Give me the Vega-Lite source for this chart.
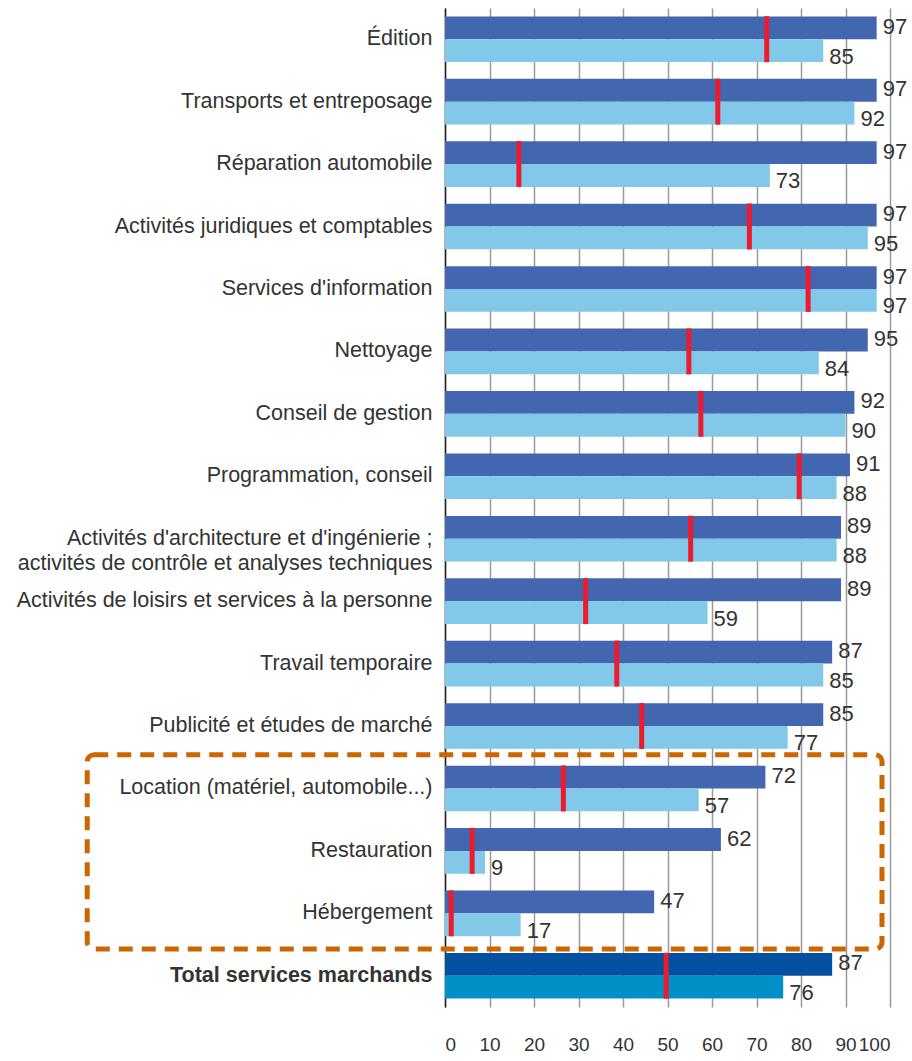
{
  "$schema": "https://vega.github.io/schema/vega-lite/v6.json",
  "width": 445,
  "height": 999,
  "autosize": {"type": "none"},
  "padding": {"left": 445, "top": 8, "right": 22, "bottom": 54},
  "config": {"view": {"stroke": null}, "font": "Liberation Sans"},
  "datasets": {
    "barres": [
      {"categorie": "Édition", "serie": "1", "niveau": "secteur", "valeur": 97},
      {"categorie": "Édition", "serie": "2", "niveau": "secteur", "valeur": 85},
      {"categorie": "Transports et entreposage", "serie": "1", "niveau": "secteur", "valeur": 97},
      {"categorie": "Transports et entreposage", "serie": "2", "niveau": "secteur", "valeur": 92},
      {"categorie": "Réparation automobile", "serie": "1", "niveau": "secteur", "valeur": 97},
      {"categorie": "Réparation automobile", "serie": "2", "niveau": "secteur", "valeur": 73},
      {"categorie": "Activités juridiques et comptables", "serie": "1", "niveau": "secteur", "valeur": 97},
      {"categorie": "Activités juridiques et comptables", "serie": "2", "niveau": "secteur", "valeur": 95},
      {"categorie": "Services d'information", "serie": "1", "niveau": "secteur", "valeur": 97},
      {"categorie": "Services d'information", "serie": "2", "niveau": "secteur", "valeur": 97},
      {"categorie": "Nettoyage", "serie": "1", "niveau": "secteur", "valeur": 95},
      {"categorie": "Nettoyage", "serie": "2", "niveau": "secteur", "valeur": 84},
      {"categorie": "Conseil de gestion", "serie": "1", "niveau": "secteur", "valeur": 92},
      {"categorie": "Conseil de gestion", "serie": "2", "niveau": "secteur", "valeur": 90},
      {"categorie": "Programmation, conseil", "serie": "1", "niveau": "secteur", "valeur": 91},
      {"categorie": "Programmation, conseil", "serie": "2", "niveau": "secteur", "valeur": 88},
      {"categorie": "Activités d'architecture et d'ingénierie ; activités de contrôle et analyses techniques", "serie": "1", "niveau": "secteur", "valeur": 89},
      {"categorie": "Activités d'architecture et d'ingénierie ; activités de contrôle et analyses techniques", "serie": "2", "niveau": "secteur", "valeur": 88},
      {"categorie": "Activités de loisirs et services à la personne", "serie": "1", "niveau": "secteur", "valeur": 89},
      {"categorie": "Activités de loisirs et services à la personne", "serie": "2", "niveau": "secteur", "valeur": 59},
      {"categorie": "Travail temporaire", "serie": "1", "niveau": "secteur", "valeur": 87},
      {"categorie": "Travail temporaire", "serie": "2", "niveau": "secteur", "valeur": 85},
      {"categorie": "Publicité et études de marché", "serie": "1", "niveau": "secteur", "valeur": 85},
      {"categorie": "Publicité et études de marché", "serie": "2", "niveau": "secteur", "valeur": 77},
      {"categorie": "Location (matériel, automobile...)", "serie": "1", "niveau": "secteur", "valeur": 72},
      {"categorie": "Location (matériel, automobile...)", "serie": "2", "niveau": "secteur", "valeur": 57},
      {"categorie": "Restauration", "serie": "1", "niveau": "secteur", "valeur": 62},
      {"categorie": "Restauration", "serie": "2", "niveau": "secteur", "valeur": 9},
      {"categorie": "Hébergement", "serie": "1", "niveau": "secteur", "valeur": 47},
      {"categorie": "Hébergement", "serie": "2", "niveau": "secteur", "valeur": 17},
      {"categorie": "Total services marchands", "serie": "1", "niveau": "total", "valeur": 87},
      {"categorie": "Total services marchands", "serie": "2", "niveau": "total", "valeur": 76}
    ],
    "reperes": [
      {"categorie": "Édition", "repere": 72.3},
      {"categorie": "Transports et entreposage", "repere": 61.3},
      {"categorie": "Réparation automobile", "repere": 16.6},
      {"categorie": "Activités juridiques et comptables", "repere": 68.4},
      {"categorie": "Services d'information", "repere": 81.6},
      {"categorie": "Nettoyage", "repere": 54.8},
      {"categorie": "Conseil de gestion", "repere": 57.5},
      {"categorie": "Programmation, conseil", "repere": 79.6},
      {"categorie": "Activités d'architecture et d'ingénierie ; activités de contrôle et analyses techniques", "repere": 55.2},
      {"categorie": "Activités de loisirs et services à la personne", "repere": 31.6},
      {"categorie": "Travail temporaire", "repere": 38.6},
      {"categorie": "Publicité et études de marché", "repere": 44.2},
      {"categorie": "Location (matériel, automobile...)", "repere": 26.6},
      {"categorie": "Restauration", "repere": 6.1},
      {"categorie": "Hébergement", "repere": 1.4},
      {"categorie": "Total services marchands", "repere": 49.7}
    ],
    "cadre": [
      {"debut": "Location (matériel, automobile...)", "fin": "Hébergement", "gauche": -80.4, "droite": 98.2}
    ]
  },
  "layer": [
    {
      "data": {"name": "barres"},
      "transform": [{"calculate": "datum.niveau + '-' + datum.serie", "as": "cle"}],
      "mark": {"type": "bar"},
      "encoding": {
        "y": {
          "field": "categorie", "type": "nominal", "sort": null,
          "scale": {"paddingInner": 0.27, "paddingOuter": 0.135},
          "axis": {
            "title": null, "ticks": false, "domain": true, "domainColor": "#222", "domainWidth": 1.5,
            "labelFontSize": 21.5, "labelPadding": 13, "labelColor": "#333", "labelLimit": 0, "labelLineHeight": 25,
            "labelExpr": "indexof(datum.label, ';') > 0 ? [slice(datum.label, 0, indexof(datum.label, ';') + 1), slice(datum.label, indexof(datum.label, ';') + 2)] : datum.label",
            "labelFontWeight": {"condition": {"test": "datum.value == 'Total services marchands'", "value": "bold"}, "value": "normal"}
          }
        },
        "yOffset": {"field": "serie", "type": "nominal", "scale": {"paddingInner": 0, "paddingOuter": 0}},
        "x": {
          "field": "valeur", "type": "quantitative",
          "scale": {"domain": [0, 100], "nice": false},
          "axis": {
            "title": null, "values": [0, 10, 20, 30, 40, 50, 60, 70, 80, 90, 100], "labelOverlap": false,
            "grid": true, "gridColor": "#9a9a9a", "gridWidth": 1.5, "domain": false, "ticks": false,
            "labelFontSize": 19, "labelPadding": 28, "labelColor": "#333"
          }
        },
        "color": {
          "field": "cle", "type": "nominal", "legend": null,
          "scale": {"domain": ["secteur-1", "secteur-2", "total-1", "total-2"], "range": ["#4267B0", "#82C8E8", "#0451A2", "#0090C8"]}
        }
      }
    },
    {
      "data": {"name": "reperes"},
      "mark": {"type": "tick", "color": "#EC1C2E", "opacity": 1, "thickness": 5, "size": 46},
      "encoding": {
        "y": {"field": "categorie", "type": "nominal", "sort": null},
        "x": {"field": "repere", "type": "quantitative"}
      }
    },
    {
      "data": {"name": "barres"},
      "transform": [{"filter": "datum.serie == '1'"}],
      "mark": {"type": "text", "align": "left", "baseline": "middle", "dx": 6, "dy": -1, "fontSize": 22, "color": "#333"},
      "encoding": {
        "y": {"field": "categorie", "type": "nominal", "sort": null},
        "yOffset": {"field": "serie", "type": "nominal"},
        "x": {"field": "valeur", "type": "quantitative"},
        "text": {"field": "valeur", "type": "quantitative"}
      }
    },
    {
      "data": {"name": "barres"},
      "transform": [{"filter": "datum.serie == '2'"}],
      "mark": {"type": "text", "align": "left", "baseline": "middle", "dx": 6, "dy": 6, "fontSize": 22, "color": "#333"},
      "encoding": {
        "y": {"field": "categorie", "type": "nominal", "sort": null},
        "yOffset": {"field": "serie", "type": "nominal"},
        "x": {"field": "valeur", "type": "quantitative"},
        "text": {"field": "valeur", "type": "quantitative"}
      }
    },
    {
      "data": {"name": "cadre"},
      "mark": {"type": "rect", "filled": false, "stroke": "#CC6600", "strokeWidth": 5, "strokeDash": [14, 9], "cornerRadius": 7, "clip": false},
      "encoding": {
        "y": {"field": "debut", "type": "nominal", "sort": null, "bandPosition": -0.24},
        "y2": {"field": "fin", "bandPosition": 1.28},
        "x": {"field": "gauche", "type": "quantitative"},
        "x2": {"field": "droite"}
      }
    }
  ]
}
